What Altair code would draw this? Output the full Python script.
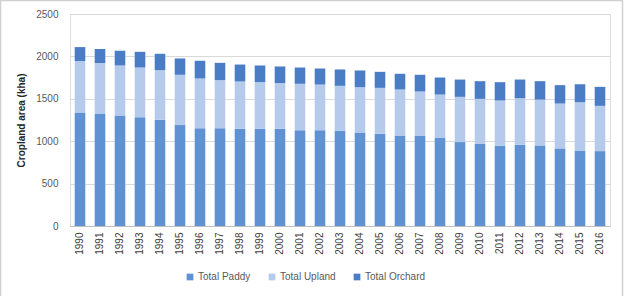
import altair as alt
import pandas as pd

# Cropland area by land-use type, 1990-2016 (kha)
years = [str(y) for y in range(1990, 2017)]
paddy = [1338, 1326, 1302, 1283, 1251, 1190, 1153, 1153, 1147, 1145, 1145, 1130, 1130, 1122,
         1102, 1088, 1066, 1061, 1037, 990, 968, 946, 958, 950, 915, 889, 883]
upland = [607, 595, 591, 586, 587, 593, 586, 567, 557, 552, 540, 547, 538, 531,
          535, 541, 544, 525, 513, 533, 531, 534, 549, 541, 529, 571, 534]
orchard = [165, 165, 173, 185, 193, 193, 209, 204, 200, 196, 196, 192, 189, 193,
           197, 189, 185, 197, 201, 204, 209, 216, 220, 217, 217, 213, 224]

series_names = ["Total Paddy", "Total Upland", "Total Orchard"]
series_colors = ["#6092d3", "#b6cbeb", "#4a7dc5"]

rows = []
for i, yr in enumerate(years):
    for k, (name, vals) in enumerate(zip(series_names, [paddy, upland, orchard])):
        rows.append({"year": yr, "type": name, "area": vals[i], "order": k})
df = pd.DataFrame(rows)

FONT = "Liberation Sans"
GREY = "#595959"

bars = alt.Chart(df).mark_bar().encode(
    x=alt.X("year:N", sort=years,
            scale=alt.Scale(paddingInner=0.47, paddingOuter=0.235),
            axis=alt.Axis(title=None, labelAngle=270, labelPadding=6, ticks=False,
                          labelFont=FONT, labelFontSize=10, labelColor="#404040",
                          domainColor="#bfbfbf", labelBaseline="middle")),
    y=alt.Y("area:Q", stack="zero",
            scale=alt.Scale(domain=[0, 2500], nice=False),
            axis=alt.Axis(title="Cropland area (kha)", values=[0, 500, 1000, 1500, 2000, 2500],
                          format="d", ticks=False, domain=False, labelPadding=12,
                          labelFont=FONT, labelFontSize=10, labelColor=GREY,
                          titleFont=FONT, titleFontSize=10, titleFontWeight="bold",
                          titleColor="#262626", titlePadding=9,
                          gridColor="#d9d9d9", gridWidth=1)),
    color=alt.Color("type:N", sort=series_names,
                    scale=alt.Scale(domain=series_names, range=series_colors),
                    legend=alt.Legend(title=None, orient="none", direction="horizontal",
                                      legendX=115, legendY=258, symbolType="square",
                                      symbolSize=45, symbolStrokeWidth=0,
                                      labelFont=FONT, labelFontSize=10, labelColor=GREY,
                                      columnPadding=16, labelOffset=3)),
    order=alt.Order("order:Q"),
)

# light grey outline round the whole chart
frame = alt.Chart(pd.DataFrame({"f": [0]})).mark_rect(
    fill=None, stroke="#d0d0d0", strokeWidth=1.5
).encode(
    x=alt.value(-69.5), x2=alt.value(552.5), y=alt.value(-13.5), y2=alt.value(300)
)

chart = alt.layer(bars, frame).properties(
    width=540, height=212,
    autosize=alt.AutoSizeParams(type="none"),
    padding={"left": 70, "top": 14, "right": 23, "bottom": 70},
).configure_view(stroke=None).configure(background="white")

chart.save("out.html", embed_options={"renderer": "svg", "actions": False})
